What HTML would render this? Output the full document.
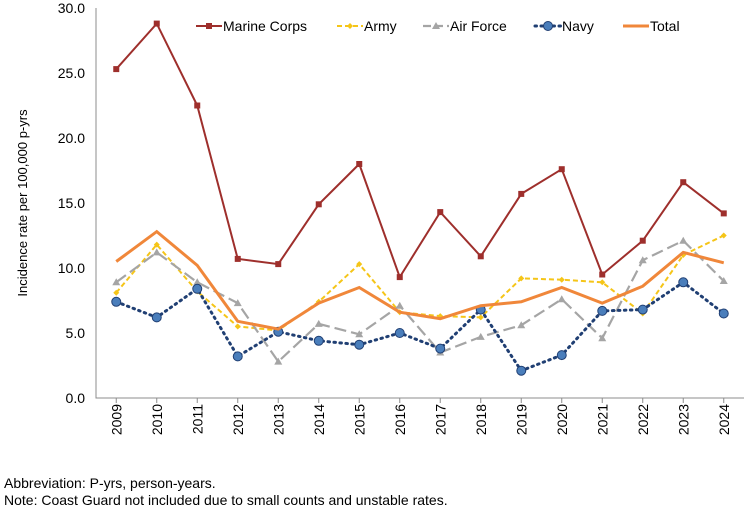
<!DOCTYPE html>
<html><head><meta charset="utf-8"><style>
html,body{margin:0;padding:0;background:#fff;}
svg{display:block;font-family:"Liberation Sans",Arial,sans-serif;}
</style></head><body>
<svg id="chart" width="748" height="508" viewBox="0 0 748 508"></svg>
<script>
const years=["2009","2010","2011","2012","2013","2014","2015","2016","2017","2018","2019","2020","2021","2022","2023","2024"];
const marine=[25.3,28.8,22.5,10.7,10.3,14.9,18.0,9.3,14.3,10.9,15.7,17.6,9.5,12.1,16.6,14.2];
const army=[8.1,11.8,8.2,5.5,5.2,7.4,10.3,6.6,6.3,6.2,9.2,9.1,8.9,6.5,11.0,12.5];
const airforce=[8.9,11.2,8.9,7.3,2.8,5.7,4.9,7.1,3.5,4.7,5.6,7.6,4.6,10.6,12.1,9.0];
const navy=[7.4,6.2,8.4,3.2,5.1,4.4,4.1,5.0,3.8,6.8,2.1,3.3,6.7,6.8,8.9,6.5];
const total=[10.5,12.8,10.2,5.9,5.3,7.3,8.5,6.6,6.1,7.1,7.4,8.5,7.3,8.6,11.2,10.4];
const yTicks=[0,5,10,15,20,25,30];

const svg=document.getElementById('chart');
const NS='http://www.w3.org/2000/svg';
const L=96,R=744,T=8,B=398;
const step=(R-L)/years.length;
const x=i=>L+step*(i+0.5);
const y=v=>B-(v/30)*(B-T);
function mk(tag,attrs,parent){const e=document.createElementNS(NS,tag);for(const k in attrs)e.setAttribute(k,attrs[k]);(parent||svg).appendChild(e);return e;}

const ax=mk('path',{d:`M${L} ${T}V${B}H${R}`,fill:'none',stroke:'#8c8c8c','stroke-width':1});


yTicks.forEach(v=>{
  const t=mk('text',{x:85,y:y(v)+5,'text-anchor':'end','font-size':14,fill:'#000'});
  t.textContent=v.toFixed(1);
  
  
});
years.forEach((yr,i)=>{
  const tk=mk('line',{x1:x(i),x2:x(i),y1:B,y2:B+5,stroke:'#8c8c8c'});
  
  
  const t=mk('text',{transform:`translate(${x(i)+5},${B+6}) rotate(-90)`,'text-anchor':'end','font-size':14,fill:'#000'});
  t.textContent=yr;
  
  
});
const yt=mk('text',{transform:`translate(27,${(T+B)/2}) rotate(-90)`,'text-anchor':'middle','font-size':13,fill:'#000'});
yt.textContent='Incidence rate per 100,000 p-yrs';



const series=[
 {name:'marine-corps',data:marine,color:'#9e2f2c',w:2,dash:'',marker:'square',mc:'#9e2f2c'},
 {name:'army',data:army,color:'#f5c518',w:2,dash:'5 3',marker:'diamond',mc:'#f5c518'},
 {name:'air-force',data:airforce,color:'#a5a5a5',w:2.2,dash:'12 5',marker:'triangle',mc:'#a5a5a5'},
 {name:'navy',data:navy,color:'#203f73',w:3,dash:'1.5 4.5',marker:'circle',mc:'#4a7ebb'},
 {name:'total',data:total,color:'#f0873a',w:3,dash:'',marker:null}
];
function marker(type,cx,cy,c,g){
  let e;
  if(type==='square')e=mk('rect',{x:cx-3,y:cy-3,width:6,height:6,fill:c},g);
  else if(type==='diamond')e=mk('path',{d:`M${cx} ${cy-3}L${cx+3} ${cy}L${cx} ${cy+3}L${cx-3} ${cy}Z`,fill:c},g);
  else if(type==='triangle')e=mk('path',{d:`M${cx} ${cy-4}L${cx+4} ${cy+3}L${cx-4} ${cy+3}Z`,fill:c},g);
  else if(type==='circle')e=mk('circle',{cx:cx,cy:cy,r:4.5,fill:c,stroke:'#203f73','stroke-width':1},g);
  
  
}
series.forEach(s=>{
  const g=mk('g',{});
  
  
  const d=s.data.map((v,i)=>(i?'L':'M')+x(i)+' '+y(v)).join('');
  const p=mk('path',{d:d,fill:'none',stroke:s.color,'stroke-width':s.w,'stroke-dasharray':s.dash,'stroke-linecap':s.name==='navy'?'round':'butt'},g);
  
  
  if(s.marker)s.data.forEach((v,i)=>marker(s.marker,x(i),y(v),s.mc,g));
});

const leg=[
 {label:'Marine Corps',x0:196,s:series[0]},
 {label:'Army',x0:337,s:series[1]},
 {label:'Air Force',x0:423,s:series[2]},
 {label:'Navy',x0:535,s:series[3]},
 {label:'Total',x0:623,s:series[4]}
];
const lg=mk('g',{});


leg.forEach(l=>{
  const g=mk('g',{},lg);
  
  
  const ly=26;
  mk('line',{x1:l.x0,x2:l.x0+26,y1:ly,y2:ly,stroke:l.s.color,'stroke-width':l.s.w,'stroke-dasharray':l.s.name==='air-force'?'8 4':l.s.dash,'stroke-linecap':l.s.name==='navy'?'round':'butt'},g);
  if(l.s.marker)marker(l.s.marker,l.x0+13,ly,l.s.mc,g);
  const t=mk('text',{x:l.x0+27,y:ly+5,'font-size':14,fill:'#000'},g);
  t.textContent=l.label;
});

const n1=mk('text',{x:4,y:488,'font-size':14,fill:'#000'});
n1.textContent='Abbreviation: P-yrs, person-years.';


const n2=mk('text',{x:4,y:505,'font-size':14,fill:'#000'});
n2.textContent='Note: Coast Guard not included due to small counts and unstable rates.';


</script>
</body></html>
